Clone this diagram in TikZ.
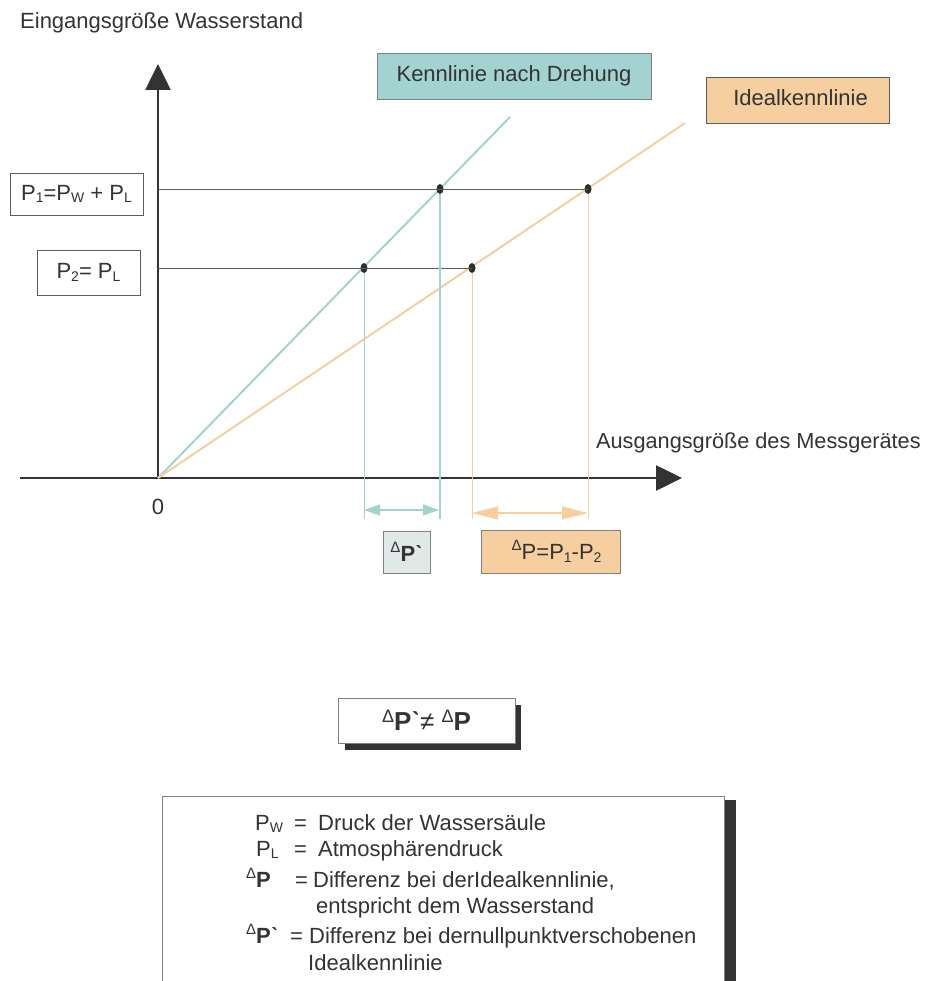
\documentclass[tikz,border=0pt]{standalone}
\usepackage{fontspec}
\setmainfont{Liberation Sans}
\usetikzlibrary{arrows.meta,shapes.geometric}
\definecolor{tealc}{HTML}{A3D3D1}
\definecolor{orngc}{HTML}{F5CFA0}
\definecolor{dk}{HTML}{333333}
\definecolor{lgr}{HTML}{E1E8E8}
\newcommand\dlt{\raisebox{0.4em}{\fontsize{15}{15}\selectfont Δ}}
\newcommand\bigdlt{\raisebox{0.33em}{\fontsize{18}{18}\selectfont Δ}}
\newcommand\sbs[1]{\raisebox{-0.12em}{\fontsize{14}{14}\selectfont #1}}
\newcommand\grv{\textbf{ˋ}}
\begin{document}
\begin{tikzpicture}[x=1pt,y=-1pt,
  txt/.style={text=dk,font=\fontsize{22}{26}\selectfont,inner sep=0pt},
  lbox/.style={draw=dk!80,line width=0.8pt,text=dk,font=\fontsize{22}{26}\selectfont,inner sep=0pt},
  axis/.style={draw=dk,line width=2.6pt,-{Triangle[width=25pt,length=26pt]}},
  guide/.style={draw=dk!80,line width=0.7pt},
  dotc/.style={ellipse,fill=dk!90!black,minimum width=7pt,minimum height=10pt,inner sep=0pt},
  shadow/.style={fill=dk}]
\useasboundingbox (0,0) rectangle (924,981);
\clip (0,0) rectangle (924,981);
\fill[white] (0,0) rectangle (924,981);
% title
\node[txt,anchor=base west] (title) at (20,29) {Eingangsgröße Wasserstand};
% axes
\coordinate (O) at (158,478);
\coordinate (ytop) at (158,64);
\coordinate (xl) at (20,478);
\coordinate (xr) at (682,478);
\draw[axis] (O) -- (ytop);
\draw[axis] (xl) -- (xr);
\node[txt,anchor=base] (zero) at (158,514) {0};
\node[txt,anchor=base west,font=\fontsize{21.7}{26}\selectfont] (xlab) at (596,448) {Ausgangsgröße des Messgerätes};
% characteristic lines
\coordinate (tend) at (510,117);
\coordinate (oend) at (685,123);
\draw[tealc,line width=2pt] (O) -- (tend);
\draw[orngc,line width=2pt] (O) -- (oend);
% guides
\coordinate (y1) at (158,189);
\coordinate (y2) at (158,268);
\node[dotc] (t1) at (440,189) {};
\node[dotc] (o1) at (588,189) {};
\node[dotc] (t2) at (364,268) {};
\node[dotc] (o2) at (472,268) {};
\draw[guide] (y1) -- (o1.center);
\draw[guide] (y2) -- (o2.center);
\coordinate (t1b) at (440,519);
\coordinate (t2b) at (364,519);
\coordinate (o1b) at (588,519);
\coordinate (o2b) at (472,519);
\draw[tealc,line width=2.4pt] (t1) -- (t1b);
\draw[tealc,line width=0.8pt] (t2) -- (t2b);
\draw[orngc,line width=0.8pt] (o1) -- (o1b);
\draw[orngc,line width=0.8pt] (o2) -- (o2b);
% dimension arrows
\coordinate (ta) at (364,510);
\coordinate (tb) at (439,510);
\coordinate (oa) at (472,513);
\coordinate (ob) at (588,513);
\draw[tealc,line width=1.2pt,{Triangle[width=11pt,length=16pt]}-{Triangle[width=11pt,length=16pt]}] (ta) -- (tb);
\draw[orngc,line width=1.2pt,{Triangle[width=13pt,length=26pt]}-{Triangle[width=13pt,length=26pt]}] (oa) -- (ob);
% nodes left
\node[lbox,minimum width=133pt,minimum height=42pt] (p1) at (76.5,194) {P\sbs{1}=P\sbs{W} + P\sbs{L}};
\node[lbox,minimum width=103pt,minimum height=45pt] (p2) at (88.5,272.5) {P\sbs{2}= P\sbs{L}};
% legend boxes top
\node[lbox,draw=gray,fill=tealc,minimum width=274pt,minimum height=46pt] (kn) at (514,76) {\raisebox{5pt}{Kennlinie nach Drehung}};
\node[lbox,draw=dk!80,fill=orngc,minimum width=183pt,minimum height=46pt] (ik) at (797.5,100) {\raisebox{5pt}{\ Idealkennlinie}};
% delta boxes
\node[lbox,draw=gray,fill=lgr,minimum width=47pt,minimum height=42pt] (dp1) at (406.5,552) {\dlt\textbf{P}\grv};
\node[lbox,draw=gray,fill=orngc,minimum width=139pt,minimum height=43pt] (dp2) at (550.5,551.5) {\ \ \dlt P=P\sbs{1}-P\sbs{2}};
% inequality box
\fill[shadow] (345,705) rectangle (521,750);
\node[lbox,draw=gray,fill=white,minimum width=177pt,minimum height=45pt,font=\fontsize{26}{30}\selectfont] (neq) at (426.5,720.5) {\bigdlt\textbf{P}\grv≠ \bigdlt\textbf{P}};
% legend
\fill[shadow] (724,800) rectangle (736,990);
\draw[gray,line width=0.8pt,fill=white] (162,796) rectangle (724,995);
\node[txt,anchor=base west] (l1a) at (255,830) {P\sbs{W}};
\node[txt,anchor=base west] (l1b) at (294,830) {=};
\node[txt,anchor=base west] (l1c) at (318,830) {Druck der Wassersäule};
\node[txt,anchor=base west] (l2a) at (256,856) {P\sbs{L}};
\node[txt,anchor=base west] (l2b) at (294,856) {=};
\node[txt,anchor=base west] (l2c) at (318,856) {Atmosphärendruck};
\node[txt,anchor=base west] (l3a) at (246,887) {\dlt\textbf{P}};
\node[txt,anchor=base west] (l3b) at (295,887) {=};
\node[txt,anchor=base west] (l3c) at (313,887) {Differenz bei derIdealkennlinie,};
\node[txt,anchor=base west] (l4) at (316,913) {entspricht dem Wasserstand};
\node[txt,anchor=base west] (l5a) at (246,943) {\dlt\textbf{P}\grv};
\node[txt,anchor=base west] (l5b) at (290,943) {=};
\node[txt,anchor=base west] (l5c) at (309,943) {Differenz bei dernullpunktverschobenen};
\node[txt,anchor=base west] (l6) at (308,970) {Idealkennlinie};
\end{tikzpicture}
\end{document}
